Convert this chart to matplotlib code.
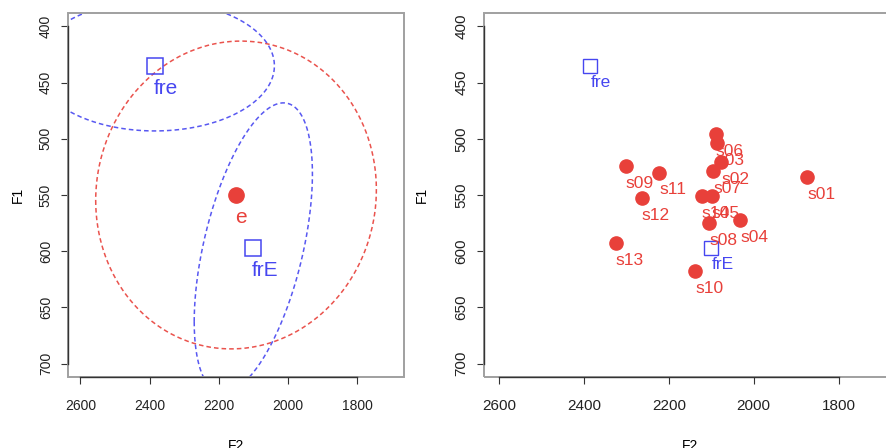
import numpy as np
import matplotlib.pyplot as plt
from matplotlib.transforms import blended_transform_factory
from matplotlib.patches import Rectangle

# -------------------------------------
# Data
# -------------------------------------

# left panel: vowel means with their ellipses
vowels = ["e", "fre", "frE"]
vowel_f2 = [2150, 2385, 2100]
vowel_f1 = [550, 435, 597]
vowel_marker = ["o", "s", "s"]
# ellipse half-extents along F2 / F1 and F2-F1 correlation
ell_f2 = [406, 346, 171]
ell_f1 = [137, 58, 129]
ell_rho = [0.035, 0.0, 0.51]

# right panel: speaker means for "e"
speakers = ["s01", "s02", "s03", "s04", "s05", "s06", "s07",
            "s08", "s09", "s10", "s11", "s12", "s13", "s14"]
spk_f2 = [1874, 2077, 2087, 2032, 2099, 2089, 2095,
          2105, 2302, 2138, 2223, 2264, 2325, 2123]
spk_f1 = [534, 521, 504, 572, 551, 496, 529,
          575, 524, 618, 530, 553, 593, 551]

# front rounded references shown on the right too
ref_labels = ["fre", "frE"]
ref_f2 = [2385, 2100]
ref_f1 = [435, 597]

RED = "#e8403a"
BLUE = "#4646f0"

# -------------------------------------
# Helpers
# -------------------------------------


def r_frame(ax, fs):
    ax.set_xlim(2636, 1664)
    ax.set_ylim(712, 388)
    ax.set_xticks([2600, 2400, 2200, 2000, 1800])
    ax.set_yticks([400, 450, 500, 550, 600, 650, 700])
    for sp in ax.spines.values():
        sp.set_visible(False)
    ax.add_patch(Rectangle((0, 0), 1, 1, transform=ax.transAxes, fill=False,
                           edgecolor="#a0a0a0", lw=1.4, clip_on=False, zorder=3))
    # R style axis lines only between first and last tick
    tx = blended_transform_factory(ax.transAxes, ax.transData)
    ty = blended_transform_factory(ax.transData, ax.transAxes)
    ax.plot([0, 0], [400, 700], color="#333333", lw=1.0, transform=tx,
            clip_on=False, zorder=4)
    ax.plot([2600, 1800], [0, 0], color="#333333", lw=1.0, transform=ty,
            clip_on=False, zorder=4)
    ax.tick_params(length=5, width=0.8, color="#333333", labelsize=fs,
                   labelcolor="#222222")
    ax.tick_params(axis="x", pad=11)
    ax.tick_params(axis="y", pad=6)
    for lab in ax.get_yticklabels():
        lab.set_rotation(90)
        lab.set_va("center")


plt.rcParams["font.family"] = ["Liberation Sans", "DejaVu Sans"]

fig = plt.figure(figsize=(8.87, 4.48), dpi=100)
ax1 = fig.add_axes([0.0767, 0.1585, 0.3788, 0.8125])
ax2 = fig.add_axes([0.5453, 0.1585, 0.4653, 0.8125])

# -------------------------------------
# Left panel
# -------------------------------------

r_frame(ax1, 10)
t = np.linspace(0, 2 * np.pi, 300)
for i, v in enumerate(vowels):
    col = RED if i == 0 else BLUE
    d = np.arccos(ell_rho[i])
    ex = vowel_f2[i] + ell_f2[i] * np.cos(t)
    ey = vowel_f1[i] + ell_f1[i] * np.cos(t - d)
    ax1.plot(ex, ey, color=col, lw=1.1, ls=(0, (3, 2)), alpha=0.9)
    if vowel_marker[i] == "o":
        ax1.plot(vowel_f2[i], vowel_f1[i], "o", color=RED, ms=11, mec=RED)
    else:
        ax1.plot(vowel_f2[i], vowel_f1[i], "s", mfc="none", mec=BLUE,
                 ms=11, mew=1.1)
    ax1.annotate(v, (vowel_f2[i], vowel_f1[i]), xytext=(-1, -16.5),
                 textcoords="offset points", ha="left", va="center",
                 color=col, fontsize=15)
ax1.set_xlabel("F2", fontsize=10)
ax1.set_ylabel("F1", fontsize=10)
ax1.xaxis.set_label_coords(0.5, -0.17)
ax1.yaxis.set_label_coords(-0.129, 0.5)

# -------------------------------------
# Right panel
# -------------------------------------

r_frame(ax2, 11)
ax2.plot(spk_f2, spk_f1, "o", color=RED, ms=9.5, mec=RED)
for s, x, y in zip(speakers, spk_f2, spk_f1):
    ax2.annotate(s, (x, y), xytext=(0, -12.5), textcoords="offset points",
                 ha="left", va="center", color=RED, fontsize=12.5)
ax2.plot(ref_f2, ref_f1, "s", mfc="none", mec=BLUE, ms=10, mew=1.0)
for s, x, y in zip(ref_labels, ref_f2, ref_f1):
    ax2.annotate(s, (x, y), xytext=(0, -12), textcoords="offset points",
                 ha="left", va="center", color=BLUE, fontsize=12.5)
ax2.set_xlabel("F2", fontsize=10)
ax2.set_ylabel("F1", fontsize=10)
ax2.xaxis.set_label_coords(0.5, -0.17)
ax2.yaxis.set_label_coords(-0.132, 0.5)

fig.savefig("out.png", dpi=100)
